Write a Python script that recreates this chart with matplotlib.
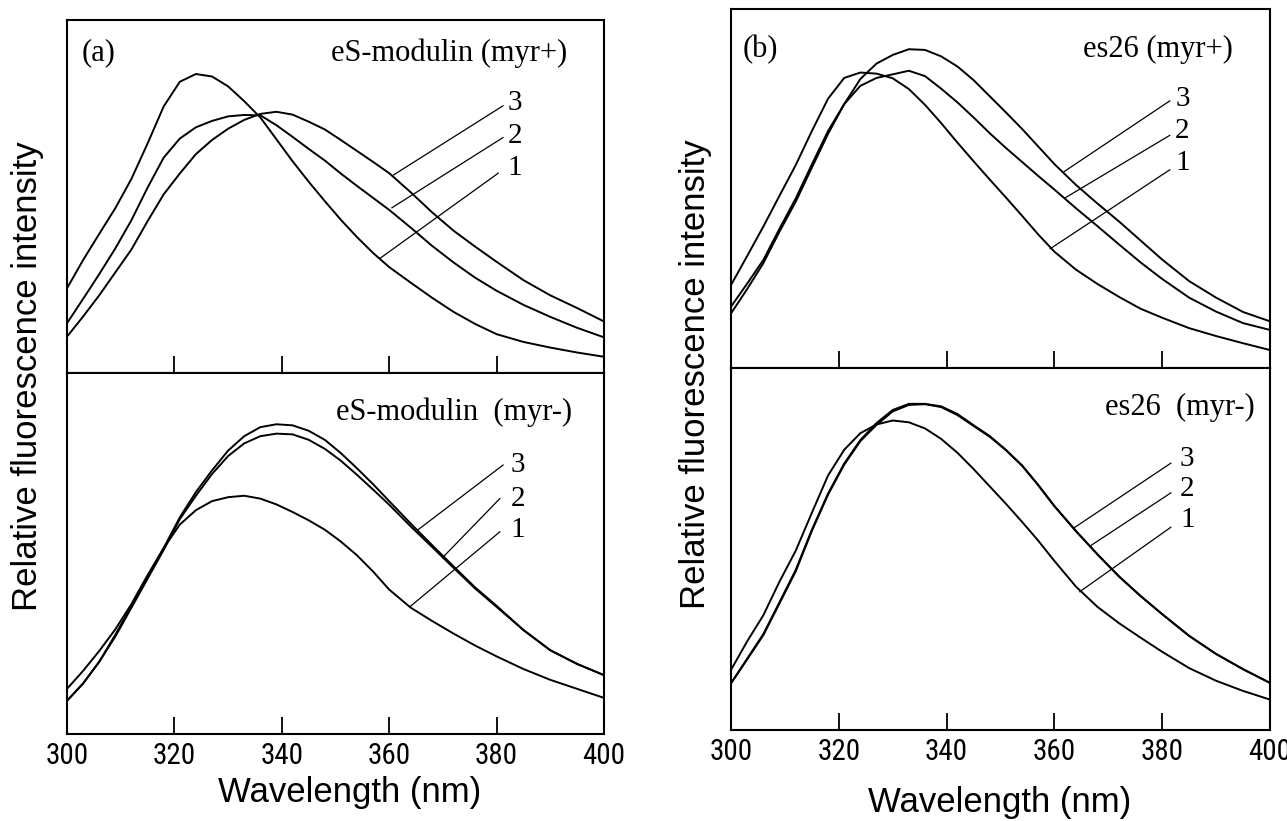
import matplotlib
matplotlib.use("Agg")
import matplotlib.pyplot as plt
from matplotlib import font_manager as fm

# ---------------- data (arbitrary intensity units 0-100) ----------------
wavelength = [300, 303, 306, 309, 312, 315, 318, 321, 324, 327, 330, 333, 336, 339,
              342, 345, 348, 351, 354, 357, 360, 364, 368, 372, 376, 380, 385, 390,
              395, 400]

# (a) eS-modulin (myr+)
a_myrp_1 = [24, 32, 39.4, 46.7, 55, 65, 75.5, 82.5, 84.7, 84, 81.2, 77, 72.4, 66.2, 60,
            54.2, 48.7, 43.4, 38.5, 34, 30, 25.6, 21.3, 17.3, 13.9, 11, 8.8, 7.2, 5.8, 4.6]
a_myrp_2 = [14.1, 21, 28, 35.3, 43.3, 52.5, 61, 66.4, 69.6, 71.4, 72.7, 73.1, 73, 70.2,
            66.9, 63.5, 60.2, 56.5, 53, 49.6, 46.2, 41.2, 36, 31.3, 27, 23.3, 19.3,
            15.9, 12.8, 10.1]
a_myrp_3 = [10.3, 16, 22, 28.5, 35, 43, 50.6, 56.5, 62, 66, 69.2, 71.7, 73.4, 74, 73.2,
            71.2, 69, 66, 62.9, 59.8, 56.6, 51.2, 45.5, 40.3, 35.8, 31.5, 26.3, 22, 18.4,
            14.6]

# (a) eS-modulin (myr-)
a_myrm_1 = [12.5, 17.5, 23, 29, 36, 44, 51.5, 58, 62, 64.5, 65.6, 66, 65.2, 63.6, 61.5,
            59.2, 56.6, 53.3, 49.5, 45, 40, 35, 31.3, 27.8, 24.5, 21.5, 18, 15, 12.5, 10]
a_myrm_2 = [9.2, 14, 20, 27, 35, 43, 51, 59.5, 66, 72, 77, 80.5, 82.5, 83.2, 83, 81.5,
            79, 75.7, 71.8, 67.7, 63.5, 57.5, 51.8, 46, 40.3, 35.2, 28.8, 23.2, 19.4, 16.3]
a_myrm_3 = [9.2, 14, 20, 27.5, 35.5, 43.5, 51.5, 60, 67, 73, 78.5, 82.5, 85, 85.8,
            85.5, 84, 81.5, 77.8, 73.6, 69.2, 64.5, 58.3, 52.3, 46.4, 40.6, 35.5, 28.8,
            23.2, 19.4, 16.3]

# (b) es26 (myr+)
b_myrp_1 = [23.1, 31.2, 39.4, 48, 56.5, 66, 75, 80.8, 82.3, 82, 80.7, 77.7, 73.3, 68.2,
            62.8, 57.6, 52.5, 47.5, 42.4, 37.2, 32.4, 27.4, 23.4, 19.8, 16.5, 14, 11.1,
            8.9, 6.9, 5]
b_myrp_2 = [17.1, 23.5, 30.1, 38.8, 47.2, 56.7, 66, 73.5, 78.6, 80.8, 81.8, 82.8, 81.3,
            77.8, 74, 69.8, 65.4, 61.3, 57.4, 53.5, 49.7, 44.5, 39.5, 34.4, 29.4, 24.8,
            19.6, 15.7, 12.5, 10.6]
b_myrp_3 = [15.2, 22, 29.2, 38, 46.3, 55.8, 65.2, 73.5, 80.5, 84.8, 87.2, 88.8, 88.6,
            86.8, 84, 80.2, 75.7, 71.2, 66.6, 61.7, 56.8, 51, 45.8, 40.8, 35.5, 30.2, 24.2,
            19.6, 15.6, 13]

# (b) es26 (myr-)
b_myrm_1 = [16.6, 24.5, 31.7, 41, 49.5, 60, 70.3, 77.4, 82, 84.4, 85.5, 85, 83.3, 80.4,
            76.6, 72.1, 67.3, 62.5, 57.5, 52.3, 46.7, 39.6, 34, 29.5, 25.5, 21.6, 17.1,
            13.6, 10.8, 8.4]
b_myrm_2 = [12.9, 19.5, 26.2, 35, 43.8, 55, 65, 73.3, 79.8, 84.3, 88, 89.8, 90, 89.2,
            87, 84, 81, 77.3, 73, 67.6, 61.8, 54.9, 48.5, 42.4, 37, 32, 26, 21, 16.8, 13]
b_myrm_3 = [12.9, 19.7, 26.5, 35.3, 44.2, 55.3, 65.3, 73.6, 80.1, 84.8, 88.4, 90.1, 90.1,
            89.4, 87.3, 84.2, 81.2, 77.4, 73.1, 67.7, 61.9, 55, 48.5, 42.4, 37, 32, 26,
            21, 16.8, 13]

xticks_major = [300, 320, 340, 360, 380, 400]
curve_numbers = ["3", "2", "1"]

# ---------------- fonts ----------------
def have(name):
    try:
        fm.findfont(fm.FontProperties(family=name), fallback_to_default=False)
        return True
    except Exception:
        return False


serif = "Liberation Serif"
sans = "Liberation Sans"
narrow = None
for cand in ["Liberation Sans Narrow", "Roboto Condensed", "DejaVu Sans Condensed",
             "Open Sans Condensed", "Noto Sans Condensed"]:
    if have(cand):
        narrow = cand
        break
if narrow is None:
    narrow = sans
    tick_size = 19
else:
    tick_size = 21

W, H = 1287, 821
fig = plt.figure(figsize=(W / 100, H / 100), dpi=100)


def box(px_left, px_right, px_top, px_bottom):
    return [px_left / W, 1 - px_bottom / H, (px_right - px_left) / W, (px_bottom - px_top) / H]


def style(ax, lower):
    ax.set_xlim(300, 400)
    ax.set_ylim(0, 100)
    ax.set_yticks([])
    for s in ax.spines.values():
        s.set_linewidth(1.5)
        s.set_color("black")
    if lower:
        ax.set_xticks(xticks_major)
        ax.set_xticklabels([str(t) for t in xticks_major], fontfamily=narrow,
                           fontsize=tick_size)
    else:
        ax.set_xticks(xticks_major[1:-1])
        ax.set_xticklabels([])
    ax.tick_params(axis="x", direction="in", length=12, width=1.3, pad=6,
                   top=False, colors="black")


def draw(ax, curves):
    for c in curves:
        ax.plot(wavelength, c, color="black", lw=1.4, solid_joinstyle="round")


def labels(ax, ends, text_x, text_ys):
    # ends: (x_start, y_start, x_end, y_end) of the leader lines for curves 3, 2, 1
    for (x0, y0, x1, y1), ty, t in zip(ends, text_ys, curve_numbers):
        ax.plot([x0, x1], [y0, y1], color="black", lw=0.9)
        ax.text(text_x, ty, t, fontfamily=serif, fontsize=21, ha="left", va="center")


# ---- panel (a) ----
ax_a1 = fig.add_axes(box(67, 604, 20, 373))
ax_a2 = fig.add_axes(box(67, 604, 373, 734))
for ax, lower in ((ax_a1, False), (ax_a2, True)):
    style(ax, lower)
draw(ax_a1, [a_myrp_1, a_myrp_2, a_myrp_3])
draw(ax_a2, [a_myrm_1, a_myrm_2, a_myrm_3])
ax_a1.text(302.8, 90.6, "(a)", fontfamily=serif, fontsize=22, va="center", ha="left")
ax_a1.text(393.1, 90.6, "eS-modulin (myr+)", fontfamily=serif, fontsize=22, va="center",
           ha="right")
ax_a2.text(394, 89, "eS-modulin  (myr-)", fontfamily=serif, fontsize=22, va="center",
           ha="right")
labels(ax_a1, [(381.2, 75.7, 360.8, 56.1), (381.2, 66.7, 360.5, 46.8),
               (380.3, 56.6, 358.3, 32.5)],
       382.1, [76.5, 67.2, 58])
labels(ax_a2, [(381.2, 74.5, 365.3, 56.5), (380.6, 65.2, 369.9, 48.8),
               (380.6, 56, 363.9, 35.3)],
       382.6, [74.5, 65, 56.5])

# ---- panel (b) ----
ax_b1 = fig.add_axes(box(731, 1270, 9, 368))
ax_b2 = fig.add_axes(box(731, 1270, 368, 730))
for ax, lower in ((ax_b1, False), (ax_b2, True)):
    style(ax, lower)
draw(ax_b1, [b_myrp_1, b_myrp_2, b_myrp_3])
draw(ax_b2, [b_myrm_1, b_myrm_2, b_myrm_3])
ax_b1.text(302.2, 88.6, "(b)", fontfamily=serif, fontsize=22, va="center", ha="left")
ax_b1.text(393.1, 88.6, "es26 (myr+)", fontfamily=serif, fontsize=22, va="center",
           ha="right")
ax_b2.text(397.2, 89, "es26  (myr-)", fontfamily=serif, fontsize=22, va="center",
           ha="right")
labels(ax_b1, [(381.4, 74.4, 361.7, 54.6), (381.4, 64.8, 362, 47.4),
               (381.4, 55.2, 359.2, 33.2)],
       382.4, [75, 66, 57])
labels(ax_b2, [(381.6, 73.7, 363.6, 55.8), (381.6, 65.5, 366.6, 50.8),
               (381.6, 56, 364.7, 38.2)],
       383.3, [75, 66.5, 58])

# ---- axis titles ----
fig.text(28 / W, 1 - 376 / H, "Relative fluorescence intensity", rotation=90,
         fontfamily=sans, fontsize=25, ha="center", va="center")
fig.text(696 / W, 1 - 374 / H, "Relative fluorescence intensity", rotation=90,
         fontfamily=sans, fontsize=25, ha="center", va="center")
fig.text(350 / W, 1 - 792 / H, "Wavelength (nm)", fontfamily=sans, fontsize=25,
         ha="center", va="center")
fig.text(1000 / W, 1 - 802 / H, "Wavelength (nm)", fontfamily=sans, fontsize=25,
         ha="center", va="center")

fig.savefig("out.png", dpi=100)
